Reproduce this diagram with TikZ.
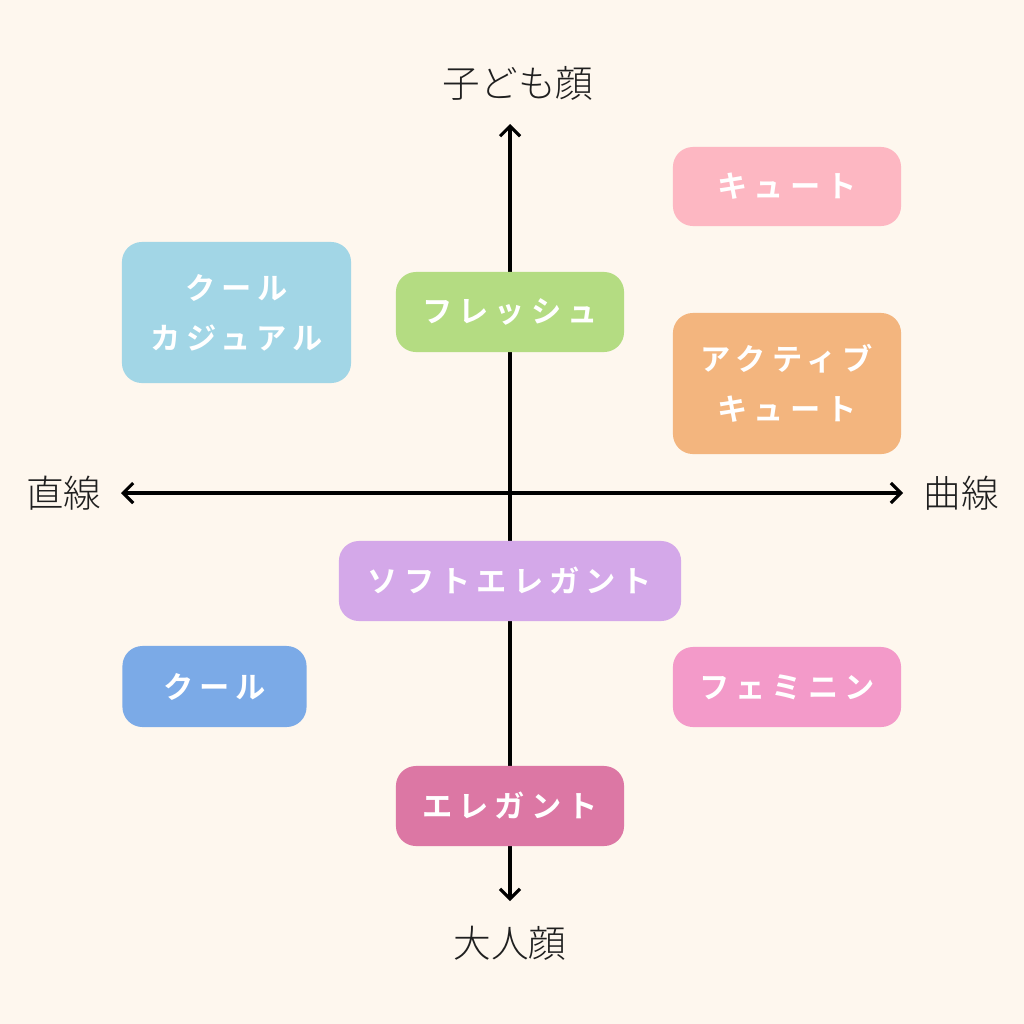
\documentclass[tikz,border=0pt]{standalone}
\usepackage{fontspec}
\setmainfont{Noto Sans CJK JP}
\newfontfamily\boxfont{Noto Sans CJK JP Bold}[LetterSpace=20]
\newfontfamily\axisfont{Noto Sans CJK JP Light}
\usetikzlibrary{arrows.meta}
\definecolor{bgcream}{HTML}{FEF7EE}
\definecolor{cutepink}{HTML}{FDB7C2}
\definecolor{casualblue}{HTML}{A2D6E6}
\definecolor{freshgreen}{HTML}{B4DC82}
\definecolor{activeorange}{HTML}{F3B57E}
\definecolor{softlilac}{HTML}{D4A8E9}
\definecolor{coolblue}{HTML}{7BAAE7}
\definecolor{femininepink}{HTML}{F39AC9}
\definecolor{elegantrose}{HTML}{DC77A4}
\tikzset{
	typebox/.style={rounded corners=0.2cm, text=white, align=center, inner sep=0pt,
		font=\boxfont\fontsize{8.6}{14.2}\selectfont},
	axislabel/.style={text=black!88, font=\axisfont\fontsize{10.7}{12}\selectfont},
	axis/.style={line width=0.9pt, {Straight Barb[length=0.1cm,width=0.2cm]}-{Straight Barb[length=0.1cm,width=0.2cm]}}
}

\begin{document}
\begin{tikzpicture}[x=0.01cm, y=-0.01cm]
		%%%%% START %%%%%
		
		\fill[bgcream] (0, 0) rectangle (1024, 1024);
		
		\coordinate (ytop) at (510, 124);
		\coordinate (ybot) at (510, 901);
		\coordinate (xleft) at (121, 493);
		\coordinate (xright) at (903, 493);
		
		\draw[axis] (ybot) -- (ytop);
		\draw[axis] (xleft) -- (xright);
		
		\node[axislabel] (child) at (518, 83) {子ども顔};
		\node[axislabel] (adult) at (510, 943) {大人顔};
		\node[axislabel] (straight) at (64, 493) {直線};
		\node[axislabel] (curve) at (961, 493) {曲線};
		
		\node[typebox, fill=cutepink, minimum width=2.28cm, minimum height=0.79cm] (cute) at (787, 186.5) {キュート};
		\node[typebox, fill=casualblue, minimum width=2.29cm, minimum height=1.41cm] (coolcasual) at (236.5, 312.5) {クール\\カジュアル};
		\node[typebox, fill=freshgreen, minimum width=2.28cm, minimum height=0.80cm] (fresh) at (510, 312) {フレッシュ};
		\node[typebox, fill=activeorange, minimum width=2.28cm, minimum height=1.41cm] (activecute) at (787, 383.5) {アクティブ\\キュート};
		
		\node[typebox, fill=softlilac, minimum width=3.42cm, minimum height=0.80cm] (softelegant) at (510, 581) {ソフトエレガント};
		\node[typebox, fill=coolblue, minimum width=1.84cm, minimum height=0.81cm] (cool) at (214.5, 686.5) {クール};
		\node[typebox, fill=femininepink, minimum width=2.28cm, minimum height=0.80cm] (feminine) at (787, 687) {フェミニン};
		\node[typebox, fill=elegantrose, minimum width=2.28cm, minimum height=0.80cm] (elegant) at (510, 806) {エレガント};
		
		%%%%% END %%%%%
	\end{tikzpicture}
\end{document}
